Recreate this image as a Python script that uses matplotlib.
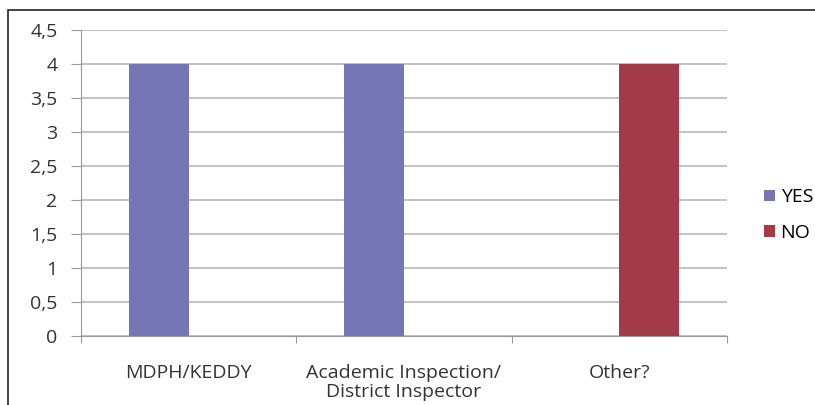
import numpy as np
import matplotlib.pyplot as plt
from matplotlib.patches import Rectangle

categories = ['MDPH/KEDDY', 'Academic Inspection/\nDistrict Inspector', 'Other?']
yes_values = [4, 4, 0]
no_values = [0, 0, 4]
y_ticks = [0, 0.5, 1, 1.5, 2, 2.5, 3, 3.5, 4, 4.5]
y_labels = ['0', '0,5', '1', '1,5', '2', '2,5', '3', '3,5', '4', '4,5']

plt.rcParams['font.family'] = ['Open Sans', 'DejaVu Sans']
fs = 14

fig = plt.figure(figsize=(8.15, 4.05), dpi=100)
ax = fig.add_axes([81 / 815, 69 / 405, 646 / 815, 306 / 405])

x = np.arange(len(categories))
w = 0.279
ax.bar(x - w / 2, yes_values, w, color='#7675B6', label='YES', zorder=3)
ax.bar(x + w / 2, no_values, w, color='#A23B47', label='NO', zorder=3)

ax.set_xlim(-0.5, 2.5)
ax.set_ylim(0, 4.5)
ax.set_yticks(y_ticks)
ax.set_yticklabels(y_labels)
ax.yaxis.grid(True, color='#B8B8B8', linewidth=1.2, zorder=0)

ax.set_xticks([-0.5, 0.5, 1.5, 2.5])
ax.set_xticklabels([])
ax.set_xticks(x, minor=True)
ax.set_xticklabels(categories, minor=True, fontsize=fs, color='#333333',
                   linespacing=1.1)
ax.tick_params(axis='x', which='minor', length=0, pad=20)
ax.tick_params(axis='x', which='major', length=5, color='#999999')
ax.tick_params(axis='y', length=7, color='#999999', labelsize=fs,
               labelcolor='#333333', pad=10)

for s in ['top', 'right']:
    ax.spines[s].set_visible(False)
for s in ['left', 'bottom']:
    ax.spines[s].set_color('#999999')

fig.legend(loc='center left', bbox_to_anchor=(764 / 815, 1 - 215 / 405),
           frameon=False, fontsize=fs, handlelength=0.55, handleheight=0.55,
           handletextpad=0.3, labelspacing=0.9, borderaxespad=0,
           borderpad=0)

fig.patches.append(Rectangle((8 / 815, -0.1), 1.2, 0.1 + 395 / 405,
                             transform=fig.transFigure, fill=False,
                             edgecolor='#222222', linewidth=1.2))

fig.savefig('out.png', dpi=100)
